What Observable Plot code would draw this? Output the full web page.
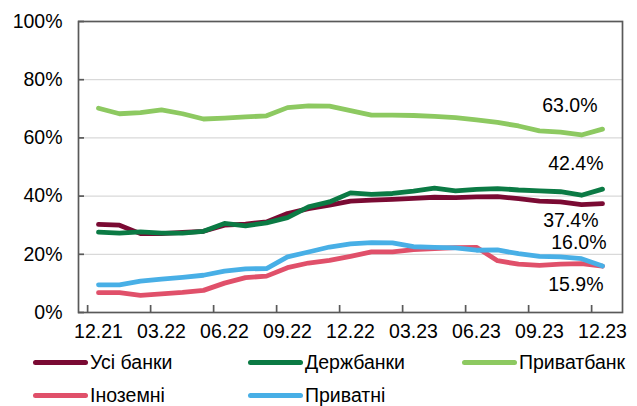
<!DOCTYPE html>
<html><head><meta charset="utf-8">
<script src="https://cdn.jsdelivr.net/npm/d3@7"></script>
<script src="https://cdn.jsdelivr.net/npm/@observablehq/plot@0.6"></script>
<style>
body{margin:0;background:#fff;font-family:"Liberation Sans",Arial,sans-serif;}
#wrap{position:relative;width:637px;height:406px;overflow:hidden;}
#wrap svg{display:block;}
.leg{position:absolute;display:flex;align-items:center;font-size:19.5px;color:#000;line-height:20px;height:20px;white-space:nowrap;}
.sw{width:55px;height:5px;border-radius:3px;margin-right:2px;}
</style></head><body><div id="wrap"></div>
<script>
const months = ["12.21","01.22","02.22","03.22","04.22","05.22","06.22","07.22","08.22","09.22","10.22","11.22","12.22","01.23","02.23","03.23","04.23","05.23","06.23","07.23","08.23","09.23","10.23","11.23","12.23"];
const xTickLabels = ["12.21","03.22","06.22","09.22","12.22","03.23","06.23","09.23","12.23"];
const yTicks = [0,20,40,60,80,100];
const gridValues = [20,40,60,80];
const seriesNames = ["Усі банки","Держбанки","Приватбанк","Іноземні","Приватні"];
const seriesColors = ["#7a0a33","#0b7a44","#8dc961","#e0506a","#48afe6"];
const allBanks   = [30.3,30.0,27.1,27.1,27.5,27.9,30.0,30.4,31.1,34.0,35.7,36.9,38.3,38.6,38.9,39.2,39.6,39.5,39.7,39.8,39.1,38.3,38.0,37.1,37.4];
const stateBanks = [27.6,27.3,27.7,27.3,27.3,27.9,30.6,29.8,30.8,32.6,36.3,38.0,41.1,40.6,40.9,41.7,42.7,41.8,42.3,42.6,42.1,41.8,41.5,40.3,42.4];
const privatBank = [70.2,68.3,68.7,69.6,68.3,66.5,66.8,67.2,67.6,70.4,71.0,70.9,69.4,67.8,67.8,67.7,67.4,67.0,66.2,65.3,64.1,62.4,62.0,61.0,63.0];
const foreign    = [6.8,6.8,5.9,6.4,6.9,7.6,10.1,12.0,12.5,15.4,17.0,17.9,19.3,20.8,20.8,21.6,22.0,22.3,22.4,17.8,16.6,16.2,16.6,16.8,15.9];
const privateB   = [9.5,9.5,10.8,11.5,12.1,12.8,14.2,15.0,15.1,19.1,20.8,22.5,23.6,24.0,23.9,22.6,22.4,22.2,21.4,21.5,20.2,19.3,19.1,18.5,16.0];
const seriesValues = [allBanks, stateBanks, privatBank, foreign, privateB];

// end-label placement (series index, dx, dy)
const endLabelSeries = [2,1,0,4,3];
const endLabelOffsets = [[-5,-23],[1,-25],[-4,17],[4,-23],[1,19]];

const W=637,H=345,mL=78,mR=15,mT=21,mB=33;
const plotW = W-mL-mR, plotH = H-mT-mB;
const step = plotW/months.length;
const font = '"Liberation Sans",Arial,sans-serif';
const fs = 19.5;

const rows = [];
seriesValues.forEach((vals,k)=>vals.forEach((v,i)=>rows.push({series:seriesNames[k], month:months[i], value:v})));

const labelMarks = endLabelSeries.map((k,j)=>{
  const last = months.length-1;
  const d = [{month:months[last], value:seriesValues[k][last]}];
  return Plot.text(d,{x:"month",y:"value",text:d=>d.value.toFixed(1)+"%",textAnchor:"end",
    dx:endLabelOffsets[j][0],dy:endLabelOffsets[j][1],fontSize:fs,fill:"#000"});
});

const chart = Plot.plot({
  width:W,height:H,marginLeft:mL,marginRight:mR,marginTop:mT,marginBottom:mB,
  style:{fontFamily:font,fontSize:fs+"px",color:"#000",background:"#fff"},
  x:{type:"point",domain:months,padding:0.5},
  y:{domain:[0,100]},
  color:{domain:seriesNames,range:seriesColors},
  marks:[
    Plot.ruleY(gridValues,{stroke:"#d9d9d9",strokeWidth:1.3}),
    Plot.frame({stroke:"#595959",strokeWidth:1.7}),
    Plot.ruleX(xTickLabels,{x:d=>d,dx:-step/2,insetTop:plotH-7,stroke:"#595959",strokeWidth:1.7}),
    Plot.ruleY(yTicks,{y:d=>d,insetRight:plotW-6,stroke:"#595959",strokeWidth:1.7}),
    Plot.axisX({ticks:xTickLabels,tickSize:0,tickPadding:12,fontSize:fs,label:null}),
    Plot.axisY({ticks:yTicks,tickSize:0,tickPadding:16,tickFormat:d=>d+"%",fontSize:fs,label:null}),
    Plot.line(rows,{x:"month",y:"value",stroke:"series",z:"series",strokeWidth:4.8,strokeLinejoin:"round"}),
    ...labelMarks
  ]
});
const wrap = document.getElementById("wrap");
wrap.appendChild(chart);

const legendPos = [[33,352],[248,352],[462,352],[33,385],[248,385]];
seriesNames.forEach((name,k)=>{
  const item = document.createElement("div");
  item.className = "leg";
  item.style.left = legendPos[k][0]+"px";
  item.style.top = legendPos[k][1]+"px";
  const sw = document.createElement("span");
  sw.className = "sw";
  sw.style.background = seriesColors[k];
  const tx = document.createElement("span");
  tx.textContent = name;
  item.appendChild(sw); item.appendChild(tx);
  wrap.appendChild(item);
});
</script></body></html>
